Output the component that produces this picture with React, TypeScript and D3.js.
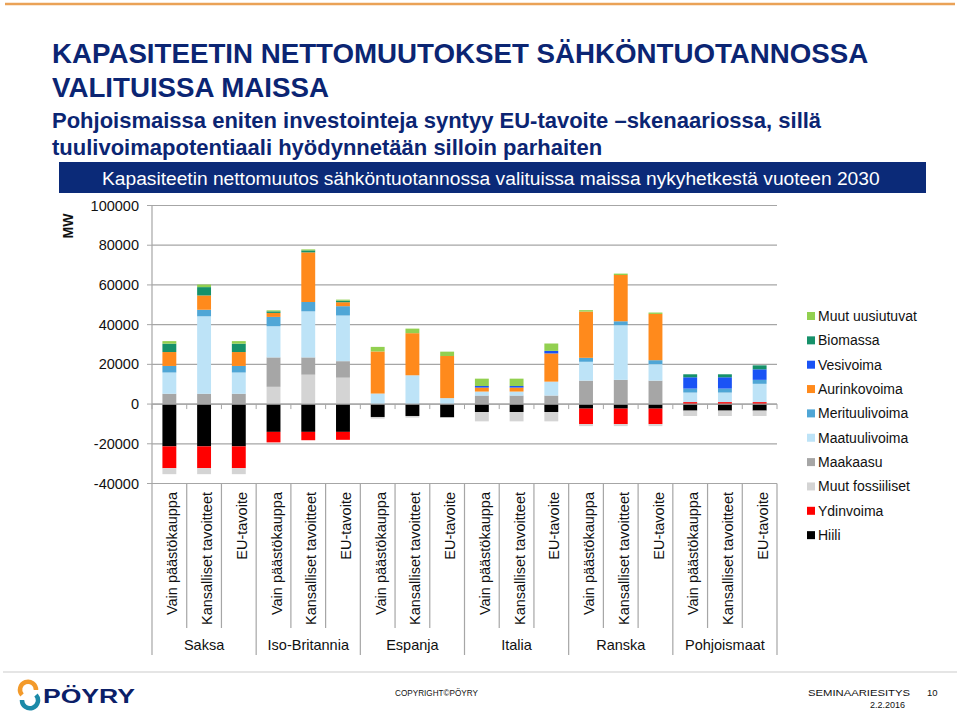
import React from "react";
import * as d3 from "d3";

const countries = ["Saksa", "Iso-Britannia", "Espanja", "Italia", "Ranska", "Pohjoismaat"];
const scenarios = ["Vain päästökauppa", "Kansalliset tavoitteet", "EU-tavoite"];

// values in MW, 18 bars: country x scenario
const hiili = [-21300, -21300, -21300, -14000, -14000, -14000, -6500, -6000, -6700, -4000, -4000, -4000, -2300, -2300, -2300, -3300, -3300, -3300];
const ydinvoima = [-11000, -11000, -11000, -5300, -4200, -4000, 0, 0, 0, 0, 0, 0, -7800, -7800, -7800, 1000, 1000, 1000];
const muutFossiiliset = [-3000, -3000, -3000, 8700, 14800, 13300, -800, -800, -300, -4700, -4700, -4700, -1000, -1000, -1000, -2700, -2700, -2700];
const maakaasu = [5200, 5200, 5200, 14800, 8700, 8300, 0, 0, 0, 4300, 4300, 4300, 11800, 12200, 11800, 0, 0, 0];
const maatuulivoima = [10700, 39000, 10700, 15700, 23200, 23000, 5300, 14500, 3000, 2000, 2000, 7000, 9500, 27500, 8300, 4800, 4800, 9200];
const merituulivoima = [3300, 3300, 3300, 4700, 4700, 4700, 0, 0, 0, 0, 0, 0, 2000, 2000, 2000, 2000, 2000, 2000];
const aurinkovoima = [7000, 7200, 7000, 2000, 25000, 2000, 21200, 21200, 21200, 2000, 2000, 14200, 23300, 23300, 23300, 0, 0, 0];
const vesivoima = [0, 0, 0, 0, 0, 0, 0, 0, 0, 800, 800, 1300, 0, 0, 0, 5700, 5700, 5300];
const biomassa = [4200, 4200, 4200, 800, 1000, 800, 0, 0, 0, 0, 0, 0, 0, 0, 0, 1500, 1500, 2000];
const muutUusiutuvat = [1300, 1300, 1300, 500, 500, 500, 2300, 2300, 2200, 3700, 3700, 3700, 700, 700, 700, 0, 0, 0];

const seriesNames = ["Hiili", "Ydinvoima", "Muut fossiiliset", "Maakaasu", "Maatuulivoima", "Merituulivoima", "Aurinkovoima", "Vesivoima", "Biomassa", "Muut uusiutuvat"];
const seriesValues = [hiili, ydinvoima, muutFossiiliset, maakaasu, maatuulivoima, merituulivoima, aurinkovoima, vesivoima, biomassa, muutUusiutuvat];
const seriesColors = ["#000000", "#ff0000", "#d4d4d4", "#a6a6a6", "#bde3f7", "#4fa6d6", "#ff8a1c", "#1a53f5", "#16916a", "#92d050"];

const yTicks = [100000, 80000, 60000, 40000, 20000, 0, -20000, -40000];

const FONT = "'Liberation Sans', Arial, sans-serif";
const NAVY = "#0b2573";

export default function App() {
  const left = 152, right = 777, top = 205.5, bottom = 483.5;
  const n = countries.length * scenarios.length;
  const idx = d3.range(n);
  const x = d3.scaleBand<number>().domain(idx).range([left, right]).paddingInner(0.6).paddingOuter(0.3);
  const y = d3.scaleLinear().domain([-40000, 100000]).range([bottom, top]);
  const step = x.step();

  const table = idx.map((i) => {
    const row: any = { i };
    seriesNames.forEach((s, k) => (row[s] = seriesValues[k][i]));
    return row;
  });
  const stack = d3.stack<any>().keys(seriesNames).offset(d3.stackOffsetDiverging);
  const layers = stack(table);

  return (
    <svg width={960} height={711} style={{ position: "absolute", left: 0, top: 0, background: "#fff" }} fontFamily={FONT}>
      <line x1={5} x2={955} y1={4} y2={4} stroke="#eaa257" strokeWidth={2.5} />
      <text x={52} y={63} fontSize={27.7} fontWeight="bold" fill={NAVY}>KAPASITEETIN NETTOMUUTOKSET SÄHKÖNTUOTANNOSSA</text>
      <text x={52} y={97} fontSize={27.7} fontWeight="bold" fill={NAVY}>VALITUISSA MAISSA</text>
      <text x={52} y={128} fontSize={22} fontWeight="bold" fill={NAVY}>Pohjoismaissa eniten investointeja syntyy EU-tavoite –skenaariossa, sillä</text>
      <text x={52} y={155} fontSize={22} fontWeight="bold" fill={NAVY}>tuulivoimapotentiaali hyödynnetään silloin parhaiten</text>
      <rect x={59} y={162} width={867} height={31} fill="#0b2a78" />
      <text x={102} y={185} fontSize={19.2} fill="#fff">Kapasiteetin nettomuutos sähköntuotannossa valituissa maissa nykyhetkestä vuoteen 2030</text>

      {/* gridlines */}
      {yTicks.map((t) => (
        <g key={t}>
          <line x1={left} x2={right} y1={y(t)} y2={y(t)} stroke="#a6a6a6" strokeWidth={1.2} />
          <line x1={left - 5} x2={left} y1={y(t)} y2={y(t)} stroke="#a6a6a6" strokeWidth={1} />
          <text x={139} y={y(t)} dy="0.35em" textAnchor="end" fontSize={14.5} fill="#111">{t}</text>
        </g>
      ))}
      <line x1={left} x2={left} y1={top} y2={bottom} stroke="#a6a6a6" strokeWidth={1.2} />
      <text transform={`translate(73,226) rotate(-90)`} textAnchor="middle" fontSize={14} fontWeight="bold" fill="#111">MW</text>

      {/* bars */}
      {layers.map((layer, k) => (
        <g key={seriesNames[k]} fill={seriesColors[k]}>
          {layer.map((d, i) => {
            const y0 = y(d[0]), y1 = y(d[1]);
            const h = Math.abs(y0 - y1);
            if (h < 0.01) return null;
            return <rect key={i} x={x(i)} y={Math.min(y0, y1)} width={x.bandwidth()} height={h} />;
          })}
        </g>
      ))}

      {/* zero axis with ticks */}
      <line x1={left} x2={right} y1={y(0)} y2={y(0)} stroke="#a6a6a6" strokeWidth={1.2} />
      {d3.range(n + 1).map((i) => (
        <line key={i} x1={left + i * step} x2={left + i * step} y1={y(0)} y2={y(0) + 5} stroke="#a6a6a6" strokeWidth={1} />
      ))}

      {/* category box */}
      {d3.range(n + 1).map((i) => (
        <line key={i} x1={left + i * step} x2={left + i * step} y1={bottom} y2={i % 3 === 0 ? 655 : 628} stroke="#a6a6a6" strokeWidth={1.2} />
      ))}
      {idx.map((i) => (
        <text key={i} transform={`translate(${(x(i) as number) + x.bandwidth() / 2 + 3},492) rotate(-90)`} textAnchor="end" dy="0.35em" fontSize={14.5} fill="#111">
          {scenarios[i % 3]}
        </text>
      ))}
      {countries.map((c, j) => (
        <text key={c} x={left + (j * 3 + 1.5) * step} y={645} dy="0.35em" textAnchor="middle" fontSize={14.5} fill="#111">{c}</text>
      ))}

      {/* legend */}
      {seriesNames.slice().reverse().map((s, j) => {
        const k = seriesNames.length - 1 - j;
        const cy = 316 + j * 24.35;
        return (
          <g key={s}>
            <rect x={807} y={cy - 4} width={8} height={8} fill={seriesColors[k]} />
            <text x={818} y={cy} dy="0.35em" fontSize={14} fill="#111">{s}</text>
          </g>
        );
      })}

      {/* footer */}
      <line x1={3} x2={957} y1={672} y2={672} stroke="#dcdcdc" strokeWidth={1.5} />
      <path d="M 36 690 A 8 8 0 1 0 22 695" fill="none" stroke="#f39a2a" strokeWidth={4.5} />
      <path d="M 22 700 A 8 8 0 1 0 36 695" fill="none" stroke="#1c8aa8" strokeWidth={4.5} />
      <text x={43} y={703} fontSize={21} fontWeight="900" fill="#0b2068" textLength={92} lengthAdjust="spacingAndGlyphs">PÖYRY</text>
      <text x={395} y={696} fontSize={8.5} fill="#111" textLength={83} lengthAdjust="spacingAndGlyphs">COPYRIGHT©PÖYRY</text>
      <text x={808} y={696} fontSize={9.5} fill="#111" textLength={102} lengthAdjust="spacingAndGlyphs">SEMINAARIESITYS</text>
      <text x={927} y={696} fontSize={9.5} fill="#111">10</text>
      <text x={870} y={708} fontSize={9} fill="#111">2.2.2016</text>
    </svg>
  );
}
